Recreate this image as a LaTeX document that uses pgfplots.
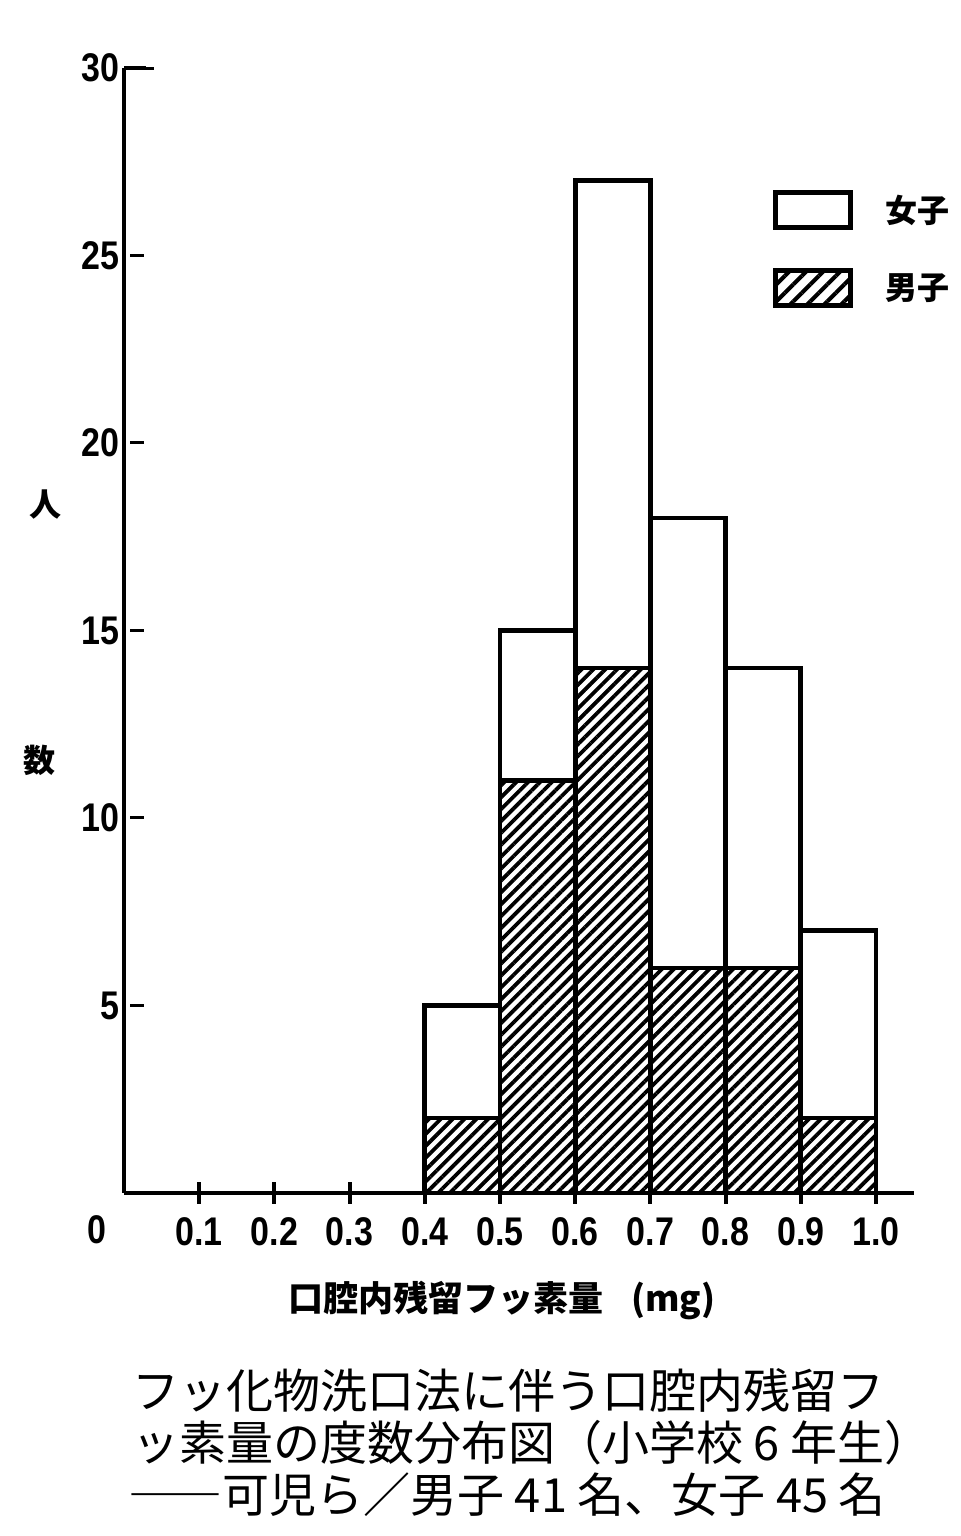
\documentclass[border=0pt]{standalone}
\usepackage{fontspec}
\usepackage{pgfplots}
\pgfplotsset{compat=1.18}
\usetikzlibrary{patterns.meta}
\setmainfont{Liberation Sans}
\newfontfamily\tickfont{Liberation Sans}[FakeStretch=0.85]
\newfontfamily\cjk{Noto Sans CJK JP}
\pgfplotsset{
  boxlegend/.style={legend image code/.code={\draw[##1] (0pt,-8.75pt) rectangle (37.5pt,8.75pt);}}
}
\begin{document}
\begin{tikzpicture}
\path[use as bounding box] (0,0) rectangle (480pt,768pt);
\begin{axis}[
  at={(62pt,171.5pt)}, anchor=south west, scale only axis,
  width=394.8pt, height=562.5pt,
  xmin=0, xmax=1.05, ymin=0, ymax=30,
  axis x line=bottom, axis y line=left,
  axis line style={-, line width=2.2pt},
  ybar stacked, bar width=0.1,
  xtick align=center, ytick align=inside,
  xmajorticks=true, ymajorticks=true,
  xtick={0.1,0.2,0.3,0.4,0.5,0.6,0.7,0.8,0.9,1.0},
  xticklabels={0.1,0.2,0.3,0.4,0.5,0.6,0.7,0.8,0.9,1.0},
  major tick length=11pt,
  xtick style={draw=black, line width=2pt},
  xticklabel style={yshift=-3.5pt},
  ytick={30}, yticklabels={30},
  ytick style={draw=black, line width=2.2pt},
  yticklabel style={xshift=1pt},
  extra y ticks={5,10,15,20,25}, extra y tick labels={5,10,15,20,25},
  extra y tick style={major tick length=7pt, ytick style={draw=black, line width=1.5pt, xshift=3pt}},
  tick label style={font=\tickfont\bfseries\fontsize{20}{20}\selectfont},
  legend style={at={(0.822,0.8916)}, anchor=north west, draw=none, fill=none,
    inner sep=0pt, row sep=19pt, column sep=16pt,
    font=\cjk\bfseries\fontsize{16}{16}\selectfont, nodes={inner sep=0pt}},
  legend cell align=left,
]
\addplot[forget plot, draw=black, line width=2.4pt,
  pattern={Lines[angle=45,distance=4.2pt,line width=1.9pt]}]
  coordinates {(0.45,2) (0.55,11) (0.65,14) (0.75,6) (0.85,6) (0.95,2)};
\addplot[forget plot, draw=black, line width=2.4pt, fill=white]
  coordinates {(0.45,3) (0.55,4) (0.65,13) (0.75,12) (0.85,8) (0.95,5)};
\addlegendimage{boxlegend, draw=black, line width=2.4pt, fill=white}
\addlegendentry{女子}
\addlegendimage{boxlegend, draw=black, line width=2.4pt,
  pattern={Lines[angle=45,distance=6pt,line width=2pt]}}
\addlegendentry{男子}
\draw[line width=2.2pt, line cap=rect] (rel axis cs:0,1) -- ++(14pt,0pt);
\end{axis}
\node[font=\tickfont\bfseries\fontsize{20}{20}\selectfont] at (48.5pt,153pt) {0};
\node[font=\cjk\bfseries\fontsize{16}{16}\selectfont] at (22.5pt,515.5pt) {人};
\node[font=\cjk\bfseries\fontsize{16}{16}\selectfont] at (20pt,388pt) {数};
\node[font=\cjk\bfseries\fontsize{17.5}{17.5}\selectfont] at (251pt,118pt) {口腔内残留フッ素量\hspace{0.8em}{\bfseries (mg)}};
\node[anchor=west, inner sep=0pt, font=\cjk\fontsize{23.5}{23.5}\selectfont] at (66pt,73pt) {フッ化物洗口法に伴う口腔内残留フ};
\node[anchor=west, inner sep=0pt, font=\cjk\fontsize{23.5}{23.5}\selectfont] at (66pt,46.5pt) {ッ素量の度数分布図（小学校 6 年生）};
\node[anchor=west, inner sep=0pt, font=\cjk\fontsize{23.5}{23.5}\selectfont] at (64pt,20.5pt) {――可児ら／男子 41 名、女子 45 名};
\end{tikzpicture}
\end{document}
